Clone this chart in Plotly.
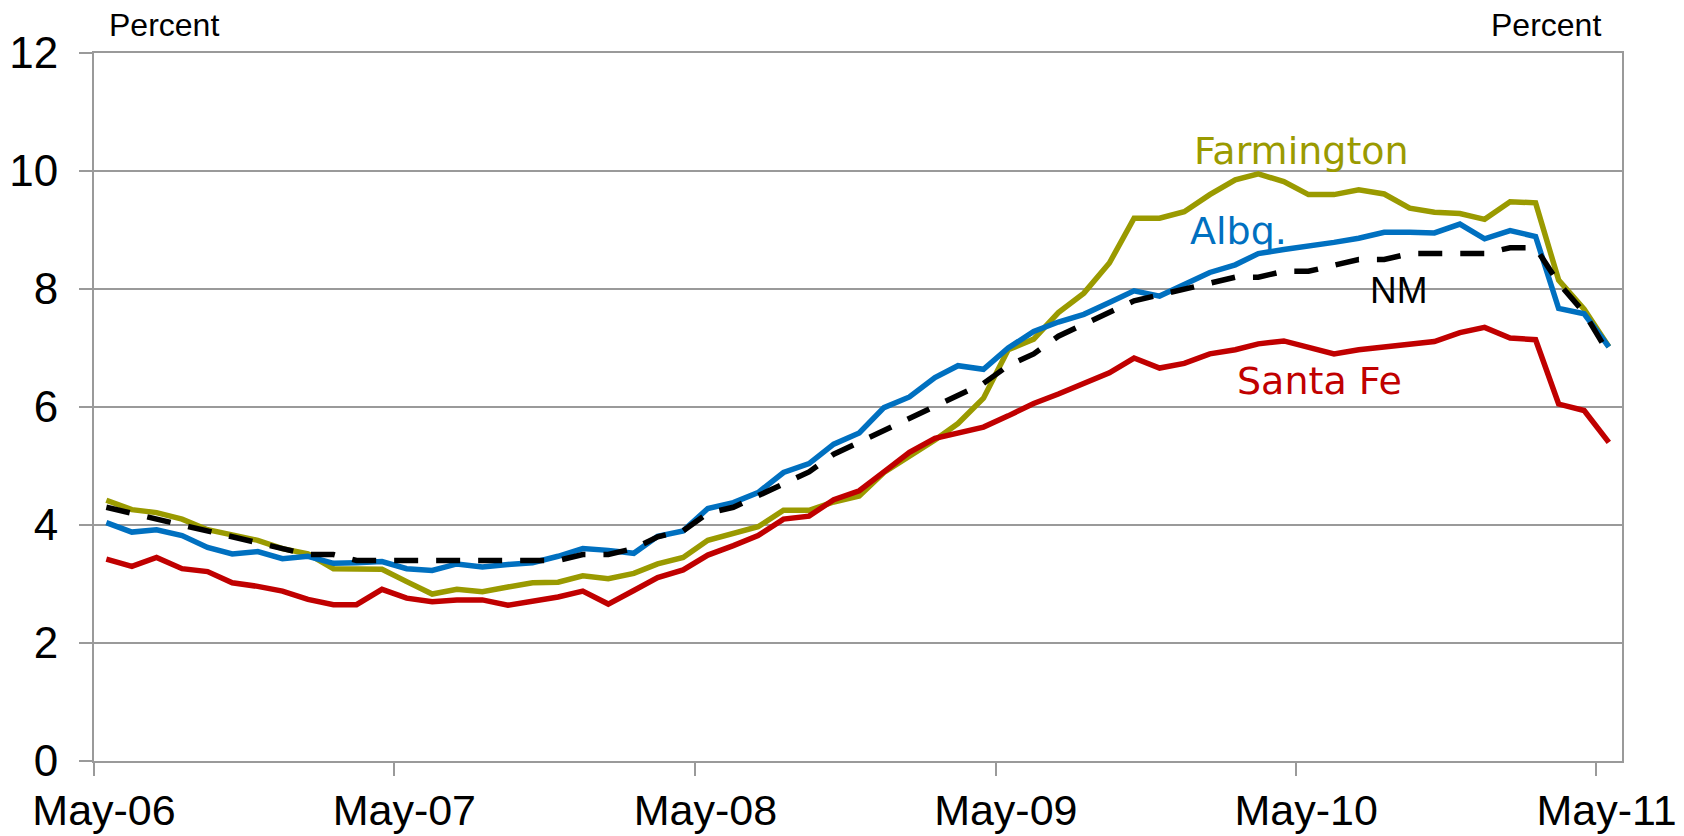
import pandas as pd
import plotly.graph_objects as go

# Monthly unemployment rate, May-2006 .. May-2011 (61 months)
months = pd.date_range("2006-05-01", periods=61, freq="MS")
dates = months + pd.Timedelta(days=15)

farmington = [4.42, 4.26, 4.21, 4.10, 3.92, 3.83, 3.74, 3.60, 3.51, 3.26, 3.25, 3.25, 3.04,
              2.83, 2.91, 2.87, 2.95, 3.02, 3.03, 3.14, 3.09, 3.18, 3.34, 3.45, 3.74, 3.86,
              3.97, 4.25, 4.25, 4.39, 4.49, 4.89, 5.16, 5.44, 5.72, 6.15, 6.97, 7.15, 7.60,
              7.93, 8.44, 9.20, 9.20, 9.31, 9.60, 9.85, 9.95, 9.82, 9.60, 9.60, 9.68, 9.61,
              9.37, 9.30, 9.28, 9.18, 9.48, 9.46, 8.15, 7.66, 7.02]

albq = [4.04, 3.88, 3.92, 3.82, 3.62, 3.51, 3.55, 3.43, 3.47, 3.35, 3.36, 3.38, 3.26,
        3.23, 3.34, 3.29, 3.33, 3.36, 3.47, 3.60, 3.57, 3.52, 3.81, 3.90, 4.28, 4.38,
        4.55, 4.89, 5.04, 5.37, 5.56, 5.99, 6.17, 6.50, 6.70, 6.64, 7.00, 7.28, 7.44,
        7.57, 7.77, 7.97, 7.88, 8.07, 8.28, 8.41, 8.60, 8.67, 8.72, 8.79, 8.86, 8.96,
        8.96, 8.95, 9.10, 8.85, 8.99, 8.89, 7.67, 7.58, 7.02]

santa_fe = [3.42, 3.30, 3.45, 3.26, 3.21, 3.02, 2.96, 2.88, 2.74, 2.65, 2.65, 2.91, 2.76,
            2.70, 2.73, 2.73, 2.64, 2.71, 2.78, 2.88, 2.66, 2.89, 3.11, 3.24, 3.49, 3.65,
            3.82, 4.10, 4.15, 4.43, 4.58, 4.90, 5.23, 5.47, 5.55, 5.66, 5.85, 6.06, 6.22,
            6.40, 6.58, 6.83, 6.66, 6.74, 6.90, 6.97, 7.07, 7.12, 7.00, 6.90, 6.97, 7.01,
            7.07, 7.11, 7.26, 7.35, 7.17, 7.14, 6.05, 5.94, 5.40]

nm = [4.3, 4.2, 4.1, 4.0, 3.9, 3.8, 3.7, 3.6, 3.5, 3.5, 3.4, 3.4, 3.4,
      3.4, 3.4, 3.4, 3.4, 3.4, 3.4, 3.5, 3.5, 3.6, 3.8, 3.9, 4.2, 4.3,
      4.5, 4.7, 4.9, 5.2, 5.4, 5.6, 5.8, 6.0, 6.2, 6.4, 6.7, 6.9, 7.2,
      7.4, 7.6, 7.8, 7.9, 8.0, 8.1, 8.2, 8.2, 8.3, 8.3, 8.4, 8.5, 8.5,
      8.6, 8.6, 8.6, 8.6, 8.7, 8.7, 8.1, 7.6, 6.9]

tick_dates = ["2006-05-01", "2007-05-01", "2008-05-01", "2009-05-01", "2010-05-01", "2011-05-01"]
tick_text = ["May-06", "May-07", "May-08", "May-09", "May-10", "May-11"]
y_ticks = [0, 2, 4, 6, 8, 10, 12]

OLIVE = "#9A9A00"
BLUE = "#0070C0"
RED = "#C00000"
GRID = "#9A9A9A"
LW = 5.5

fig = go.Figure()
fig.add_trace(go.Scatter(x=dates, y=farmington, mode="lines", name="Farmington",
                         line=dict(color=OLIVE, width=LW)))
fig.add_trace(go.Scatter(x=dates, y=albq, mode="lines", name="Albq.",
                         line=dict(color=BLUE, width=LW)))
fig.add_trace(go.Scatter(x=dates, y=santa_fe, mode="lines", name="Santa Fe",
                         line=dict(color=RED, width=LW)))
fig.add_trace(go.Scatter(x=dates, y=nm, mode="lines", name="NM",
                         line=dict(color="black", width=LW, dash="24px,18px")))

label_font = "DejaVu Sans, Verdana, sans-serif"
ann = [
    dict(text="Farmington", x=0.790, y=0.862, font=dict(color=OLIVE, size=38, family=label_font)),
    dict(text="Albq.", x=0.7487, y=0.749, font=dict(color=BLUE, size=38, family=label_font)),
    dict(text="NM", x=0.854, y=0.664, font=dict(color="black", size=37, family="Liberation Sans, Arial")),
    dict(text="Santa Fe", x=0.802, y=0.537, font=dict(color=RED, size=38, family=label_font)),
    dict(text="Percent", x=0.0458, y=1.040, font=dict(color="black", size=32, family="Liberation Sans, Arial")),
    dict(text="Percent", x=0.950, y=1.040, font=dict(color="black", size=32, family="Liberation Sans, Arial")),
]
for a in ann:
    fig.add_annotation(xref="paper", yref="paper", xanchor="center", yanchor="middle",
                       showarrow=False, **a)

fig.update_layout(
    width=1684, height=836,
    margin=dict(l=94, r=62, t=53, b=75, autoexpand=False),
    paper_bgcolor="white", plot_bgcolor="white",
    showlegend=False,
    font=dict(family="Liberation Sans, Arial, sans-serif", color="black", size=44),
)
fig.update_xaxes(
    range=["2006-05-01", "2011-06-01"],
    tickvals=tick_dates, ticktext=tick_text,
    ticks="outside", ticklen=13, tickwidth=2, tickcolor=GRID,
    ticklabelshift=10, ticklabelstandoff=-3,
    showgrid=False, showline=True, linecolor=GRID, linewidth=2, mirror=True,
    tickfont=dict(size=43, family="Liberation Sans, Arial", color="black"),
    zeroline=False, automargin=False,
)
fig.update_yaxes(
    range=[0, 12], tickvals=y_ticks,
    ticks="outside", ticklen=13, tickwidth=2, tickcolor=GRID,
    ticklabelstandoff=12,
    showgrid=True, gridcolor=GRID, gridwidth=1.5,
    showline=True, linecolor=GRID, linewidth=2, mirror=True,
    tickfont=dict(size=44, family="Liberation Sans, Arial", color="black"),
    zeroline=False, automargin=False,
)

fig.write_html(
    "out.html",
    config={"displayModeBar": False},
    post_script="document.body.style.margin='0';document.body.style.overflow='hidden';",
)
